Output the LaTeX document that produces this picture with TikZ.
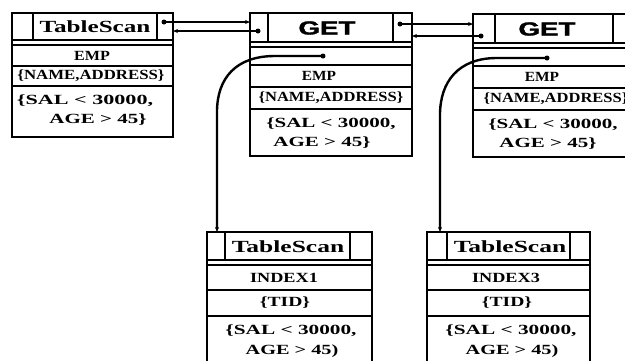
\documentclass[tikz,border=0pt]{standalone}
\usepackage{fontspec}
\usepackage{graphicx}
\setmainfont{Liberation Serif}
\newfontfamily\gfont[FakeBold=1.5]{Liberation Sans}
\usetikzlibrary{arrows.meta,fit}
\newcommand\sx[2]{\scalebox{#1}[1]{#2}}
\begin{document}
\begin{tikzpicture}[x=1pt,y=-1pt,
  cell/.style={draw,line width=1.8pt,rectangle,inner sep=0pt,outer sep=0pt},
  ts/.style={inner sep=0pt,font=\fontsize{17}{17}\selectfont\bfseries},
  dt/.style={inner sep=0pt,font=\fontsize{14}{14}\selectfont\bfseries},
  gt/.style={inner sep=0pt,font=\gfont\fontsize{19}{19}\selectfont\bfseries},
  dot/.style={circle,fill,inner sep=0pt,minimum size=5pt},
  conn/.style={line width=1.8pt,-{Stealth[length=5pt,width=4pt]}},
  curve/.style={line width=2.4pt,-{Stealth[length=5pt,width=4pt]}}]
\useasboundingbox (0,0) rectangle (625,360);
\clip (0,0) rectangle (625,360);
% ---------- Box 1: TableScan EMP
\node[cell,fit={(12,13)(173,137)}] (b1) {};
\node[cell,fit={(12,13)(33,40)}] (b1l) {};
\node[cell,fit={(33,13)(157,40)}] (b1n) {};
\node[cell,fit={(157,13)(173,40)}] (b1r) {};
\node[cell,fit={(12,45)(173,66)}] (b1a) {};
\node[cell,fit={(12,66)(173,86)}] (b1b) {};
\node[ts] (t1) at (95,27) {\sx{1.48}{TableScan}};
\node[dt] (t1a) at (92,56) {\sx{1.15}{EMP}};
\node[dt] (t1b) at (91,76) {\sx{1.2}{\{NAME,ADDRESS\}}};
\node[dt] (t1c) at (85,101) {\sx{1.58}{\{SAL < 30000,}};
\node[dt] (t1d) at (98,120) {\sx{1.5}{AGE > 45\}}};
\node[dot] (d1r) at (164,22) {};
% ---------- Box 2: GET
\node[cell,fit={(250,13)(412,156)}] (b2) {};
\node[cell,fit={(250,13)(268,42)}] (b2l) {};
\node[cell,fit={(268,13)(393,42)}] (b2n) {};
\node[cell,fit={(393,13)(412,42)}] (b2r) {};
\node[cell,fit={(250,47)(412,65)}] (b2e) {};
\node[cell,fit={(250,65)(412,87)}] (b2a) {};
\node[cell,fit={(250,87)(412,109)}] (b2b) {};
\node[gt] (t2) at (327,28) {\sx{1.46}{GET}};
\node[dt] (t2a) at (319,76) {\sx{1.1}{EMP}};
\node[dt] (t2b) at (331,98) {\sx{1.18}{\{NAME,ADDRESS\}}};
\node[dt] (t2c) at (331,124) {\sx{1.5}{\{SAL < 30000,}};
\node[dt] (t2d) at (322,143) {\sx{1.5}{AGE > 45\}}};
\node[dot] (d2l) at (258,31) {};
\node[dot] (d2r) at (400,24) {};
\node[dot] (d2e) at (323,56) {};
% ---------- Box 3: GET
\node[cell,fit={(473,14)(635,157)}] (b3) {};
\node[cell,fit={(473,14)(495,43)}] (b3l) {};
\node[cell,fit={(495,14)(613,43)}] (b3n) {};
\node[cell,fit={(613,14)(635,43)}] (b3r) {};
\node[cell,fit={(473,48)(635,66)}] (b3e) {};
\node[cell,fit={(473,66)(635,88)}] (b3a) {};
\node[cell,fit={(473,88)(635,110)}] (b3b) {};
\node[gt] (t3) at (547,29) {\sx{1.46}{GET}};
\node[dt] (t3a) at (542,77) {\sx{1.1}{EMP}};
\node[dt] (t3b) at (556,99) {\sx{1.18}{\{NAME,ADDRESS\}}};
\node[dt] (t3c) at (553,125) {\sx{1.5}{\{SAL < 30000,}};
\node[dt] (t3d) at (548,144) {\sx{1.5}{AGE > 45\}}};
\node[dot] (d3l) at (481,36) {};
\node[dot] (d3e) at (547,58) {};
% ---------- Box 4: TableScan INDEX1
\node[cell,fit={(207,232)(372,370)}] (b4) {};
\node[cell,fit={(207,232)(225,260)}] (b4l) {};
\node[cell,fit={(225,232)(350,260)}] (b4n) {};
\node[cell,fit={(350,232)(372,260)}] (b4r) {};
\node[cell,fit={(207,265)(372,290)}] (b4a) {};
\node[cell,fit={(207,290)(372,316)}] (b4b) {};
\node[ts] (t4) at (288,247) {\sx{1.5}{TableScan}};
\node[dt] (t4a) at (284,278) {\sx{1.3}{INDEX1}};
\node[dt] (t4b) at (285,303) {\sx{1.4}{\{TID\}}};
\node[dt] (t4c) at (291,331) {\sx{1.52}{\{SAL < 30000,}};
\node[dt] (t4d) at (292,351) {\sx{1.45}{AGE > 45)}};
% ---------- Box 5: TableScan INDEX3
\node[cell,fit={(427,232)(590,370)}] (b5) {};
\node[cell,fit={(427,232)(447,260)}] (b5l) {};
\node[cell,fit={(447,232)(570,260)}] (b5n) {};
\node[cell,fit={(570,232)(590,260)}] (b5r) {};
\node[cell,fit={(427,265)(590,290)}] (b5a) {};
\node[cell,fit={(427,290)(590,316)}] (b5b) {};
\node[ts] (t5) at (510,247) {\sx{1.5}{TableScan}};
\node[dt] (t5a) at (506,278) {\sx{1.3}{INDEX3}};
\node[dt] (t5b) at (507,303) {\sx{1.4}{\{TID\}}};
\node[dt] (t5c) at (511,331) {\sx{1.52}{\{SAL < 30000,}};
\node[dt] (t5d) at (512,351) {\sx{1.45}{AGE > 45)}};
% ---------- connectors
\draw[conn] (d1r.center) -- (d1r.center -| b2l.west);
\draw[conn] (d2l.center) -- (d2l.center -| b1r.east);
\draw[conn] (d2r.center) -- (d2r.center -| b3l.west);
\draw[conn] (d3l.center) -- (d3l.center -| b2r.east);
\draw[curve] (d2e.center) -- (275,56) .. controls (236,56) and (217,78) .. (217,112) -- (b4l.north -| 217,0);
\draw[curve] (d3e.center) -- (497,58) .. controls (458,58) and (440,82) .. (440,115) -- (b5l.north -| 440,0);
\end{tikzpicture}
\end{document}
